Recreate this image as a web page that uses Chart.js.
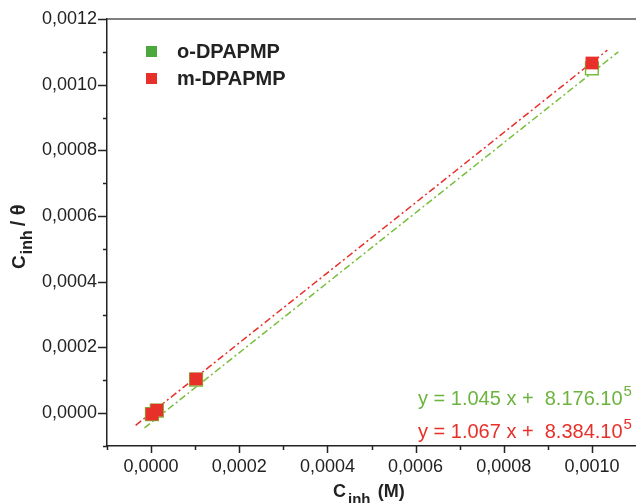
<!DOCTYPE html>
<html>
<head>
<meta charset="utf-8">
<script src="https://cdn.jsdelivr.net/npm/chart.js@4.4.1/dist/chart.umd.min.js"></script>
<style>
  html, body { margin: 0; padding: 0; background: #fff; }
  #wrap { width: 636px; height: 503px; }
</style>
</head>
<body>
<div id="wrap"><canvas id="chart" width="636" height="503"></canvas></div>
<script>
// concentrations (M) and Cinh/theta values
const concInh = [0.000002, 0.000013, 0.000102, 0.001];
const oValues = [-0.000003, 0.000008, 0.000102, 0.00105];
const mValues = [-0.000003, 0.000009, 0.000104, 0.001066];

// ends of the fitted lines
const oFitX = [-0.000015, 0.00106];
const oFitY = [-0.000045, 0.0011];
const mFitX = [-0.000035, 0.001035];
const mFitY = [-0.000037, 0.001105];

const seriesNames = ['o-DPAPMP', 'm-DPAPMP'];
const equations = [['y = 1.045 x +  8.176.10', '5'], ['y = 1.067 x +  8.384.10', '5']];

const xMin = -0.0001, xMax = 0.0011, yMin = -0.0001, yMax = 0.0012, tickStep = 0.0001;

const GREEN = '#4aa83c';
const GREEN_LINE = '#78be3c';
const GREEN_TEXT = '#6cb33f';
const RED = '#e8302a';
const FONT = '"Liberation Sans", Arial, sans-serif';

const toPts = function (xs, ys) {
    return xs.map((x, i) => ({ x: x, y: ys[i] }));
};

const stepIndex = function (v) {
    return Math.round(v / tickStep);
};

const isMajor = function (v) {
    return stepIndex(v) % 2 === 0;
};

const fmt = function (v) {
    const n = stepIndex(v);
    if (n < 0 || n % 2 !== 0) return '';
    return (n / 1e4).toFixed(4).replace('.', ',');
};

const decor = {
    id: 'decor',
    afterDraw(chart) {
        const ctx = chart.ctx;
        const a = chart.chartArea;
        const xs = chart.scales.x;
        const ys = chart.scales.y;
        ctx.save();

        // top frame line
        ctx.strokeStyle = '#555';
        ctx.lineWidth = 1.5;
        ctx.beginPath();
        ctx.moveTo(a.left, a.top);
        ctx.lineTo(a.right, a.top);
        ctx.stroke();

        // ticks, long for major, short for minor
        ctx.strokeStyle = '#222';
        ctx.lineWidth = 1.5;
        ctx.beginPath();
        for (const t of xs.ticks) {
            const px = Math.round(xs.getPixelForValue(t.value)) + 0.5;
            if (px > a.right - 2) continue;
            ctx.moveTo(px, a.bottom);
            ctx.lineTo(px, a.bottom + (isMajor(t.value) ? 7 : 4));
        }
        for (const t of ys.ticks) {
            const py = Math.round(ys.getPixelForValue(t.value)) + 0.5;
            ctx.moveTo(a.left, py);
            ctx.lineTo(a.left - (isMajor(t.value) ? 9 : 4), py);
        }
        ctx.stroke();

        // legend
        const lx = a.left + 39, ly = a.top + 27;
        const cols = [GREEN, RED];
        ctx.textBaseline = 'middle';
        ctx.textAlign = 'left';
        ctx.font = 'bold 20px ' + FONT;
        seriesNames.forEach((name, i) => {
            ctx.fillStyle = cols[i];
            ctx.fillRect(lx, ly + i * 27, 11, 11);
            ctx.fillStyle = '#222';
            ctx.fillText(name, lx + 31, ly + 6 + i * 27);
        });

        // fit equations
        const eqCols = [GREEN_TEXT, RED];
        equations.forEach((eq, i) => {
            const ex = 418, ey = 405 + i * 33;
            ctx.fillStyle = eqCols[i];
            ctx.textBaseline = 'alphabetic';
            ctx.font = '20px ' + FONT;
            ctx.fillText(eq[0], ex, ey);
            const w = ctx.measureText(eq[0]).width;
            ctx.font = '15px ' + FONT;
            ctx.fillText(eq[1], ex + w + 1, ey - 9);
        });

        // x title: C_inh (M)
        ctx.fillStyle = '#222';
        ctx.textBaseline = 'alphabetic';
        let tx = 333;
        ctx.font = 'bold 18px ' + FONT;
        ctx.fillText('C', tx, 497);
        tx += ctx.measureText('C').width + 2;
        ctx.font = 'bold 15px ' + FONT;
        ctx.fillText('inh', tx, 504);
        tx += ctx.measureText('inh ').width + 3;
        ctx.font = 'bold 18px ' + FONT;
        ctx.fillText('(M)', tx, 497);

        // y title: C_inh / theta
        ctx.translate(25, 269);
        ctx.rotate(-Math.PI / 2);
        let ty = 0;
        ctx.font = 'bold 19px ' + FONT;
        ctx.fillText('C', ty, 0);
        ty += ctx.measureText('C').width + 1;
        ctx.font = 'bold 16px ' + FONT;
        ctx.fillText('inh', ty, 7);
        ty += ctx.measureText('inh').width + 4;
        ctx.font = 'bold 20px ' + FONT;
        ctx.fillText('/ \u03b8', ty, 0);

        ctx.restore();
    }
};

const init = function () {
    const ctx = document.querySelector('#chart');
    new Chart(ctx, {
        type: 'scatter',
        data: {
            datasets: [
                {
                    label: seriesNames[1],
                    data: toPts(concInh, mValues),
                    pointStyle: 'rect',
                    pointRadius: 9,
                    backgroundColor: RED,
                    borderColor: RED,
                    borderWidth: 0,
                    order: 0,
                },
                {
                    label: seriesNames[0],
                    data: toPts(concInh, oValues),
                    pointStyle: 'rect',
                    pointRadius: 9,
                    backgroundColor: '#ffffff',
                    borderColor: GREEN_LINE,
                    borderWidth: 1.5,
                    order: 1,
                },
                {
                    label: 'fit m',
                    data: toPts(mFitX, mFitY),
                    showLine: true,
                    pointRadius: 0,
                    borderColor: RED,
                    borderWidth: 1.5,
                    borderDash: [7, 3, 2, 3],
                    order: 2,
                },
                {
                    label: 'fit o',
                    data: toPts(oFitX, oFitY),
                    showLine: true,
                    pointRadius: 0,
                    borderColor: GREEN_LINE,
                    borderWidth: 1.5,
                    borderDash: [7, 3, 2, 3],
                    order: 3,
                },
            ],
        },
        options: {
            responsive: false,
            animation: false,
            devicePixelRatio: 1,
            layout: { autoPadding: false, padding: { top: 19, right: 0, left: 0, bottom: 0 } },
            plugins: {
                legend: { display: false },
                tooltip: { enabled: false },
            },
            scales: {
                x: {
                    type: 'linear',
                    min: xMin,
                    max: xMax,
                    afterFit: (s) => { s.height = 57; s.paddingRight = 0; s.paddingLeft = 0; },
                    grid: { drawOnChartArea: false, drawTicks: true, tickLength: 8, tickColor: 'rgba(0,0,0,0)' },
                    border: { color: '#222', width: 1.5 },
                    ticks: {
                        stepSize: tickStep,
                        autoSkip: false,
                        maxRotation: 0,
                        padding: 2,
                        color: '#222',
                        font: { family: FONT, size: 18 },
                        callback: (v) => fmt(v),
                    },
                },
                y: {
                    type: 'linear',
                    min: yMin,
                    max: yMax,
                    afterFit: (s) => { s.width = 107; },
                    grid: { drawOnChartArea: false, drawTicks: true, tickLength: 8, tickColor: 'rgba(0,0,0,0)' },
                    border: { color: '#222', width: 1.5 },
                    ticks: {
                        stepSize: tickStep,
                        autoSkip: false,
                        padding: 2,
                        color: '#222',
                        font: { family: FONT, size: 18 },
                        callback: (v) => fmt(v),
                    },
                },
            },
        },
        plugins: [decor],
    });
};

document.addEventListener('DOMContentLoaded', init);
</script>
</body>
</html>
